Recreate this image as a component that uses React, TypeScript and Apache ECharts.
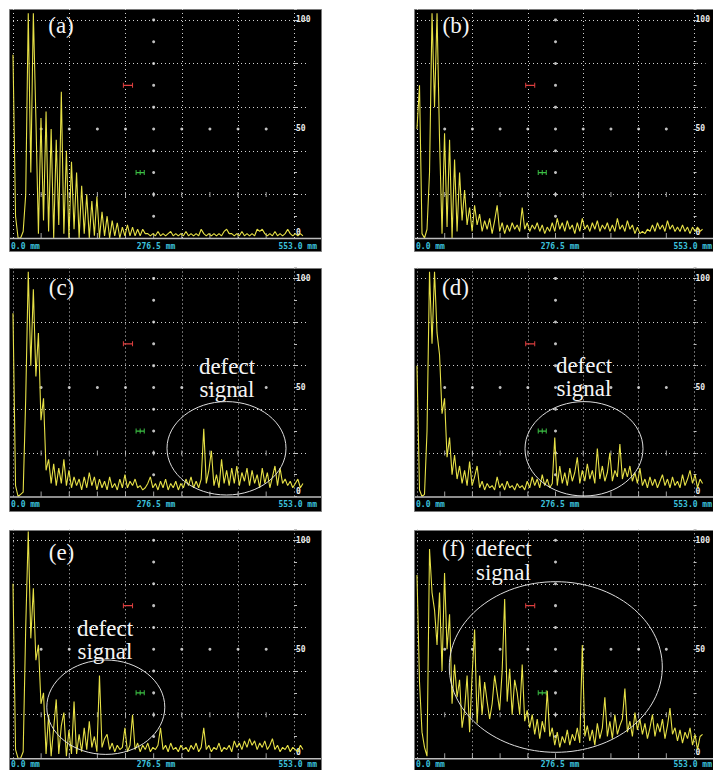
import React, { useEffect, useRef } from 'react';
import * as echarts from 'echarts';

// ---- data ----
const STEP_MM = 5;
const X_MAX = 576;
const DIV_MM = 55.3;
const CENTER_MM = 276.5;
const STRIP_LABELS = ['0.0 mm', '276.5 mm', '553.0 mm'];
const Y_LABELS = [0, 50, 100];
const PANEL_NAMES = ['(a)', '(b)', '(c)', '(d)', '(e)', '(f)'];
const DEFECT_WORDS = ['defect', 'signal'];
const DEFECT_PANELS = [2, 3, 4, 5];
const RED_GATE = [217, 235];
const RED_LEVEL = 70;
const GREEN_GATE = [242, 250, 258];
const GREEN_LEVEL = 30;
const DIVS = [1, 2, 3, 4, 5, 6, 7, 8, 9];
const DOT_LEVELS = [10, 20, 30, 40, 50, 60, 70, 80, 90, 100];
const ROW_DOT_LEVEL = 50;
const TICK_LEVELS = [0, 20];

const traceA = [
  84, 10, 0, 0, 3, 20, 103, 30, 103, 55,
  2, 55, 8, 58, 3, 50, 0, 45, 6, 67,
  2, 40, 0, 35, 4, 30, 0, 24, 2, 20,
  0, 17, 1, 19, 0, 12, 1, 10, 0, 8,
  1, 7, 0, 5, 1, 6, 1, 5, 1, 4,
  1, 4, 2, 2, 1, 2, 1, 3, 1, 2,
  1, 2, 3, 1, 2, 1, 2, 1, 3, 1,
  2, 1, 2, 1, 4, 2, 1, 2, 1, 2,
  1, 2, 1, 3, 4, 2, 2, 1, 2, 1,
  3, 1, 2, 1, 2, 1, 4, 3, 4, 2,
  1, 2, 1, 3, 1, 2, 1, 2, 4, 2,
  1, 2, 1, 2, 1,
];
const traceB = [
  50, 70, 2, 0, 4, 30, 103, 60, 103, 45,
  2, 48, 5, 45, 0, 36, 3, 30, 8, 22,
  6, 14, 3, 15, 6, 11, 3, 8, 4, 9,
  2, 8, 15, 3, 7, 2, 6, 3, 7, 4,
  6, 3, 14, 4, 7, 3, 6, 4, 7, 3,
  6, 2, 5, 3, 7, 3, 9, 4, 7, 3,
  8, 4, 6, 2, 7, 3, 9, 4, 6, 3,
  7, 4, 8, 3, 6, 4, 7, 3, 6, 3,
  9, 4, 6, 3, 8, 4, 6, 2, 5, 2,
  3, 2, 4, 3, 6, 3, 7, 4, 6, 3,
  8, 4, 6, 3, 5, 3, 6, 3, 5, 2,
  5, 3, 5, 3, 4,
];
const traceC = [
  84, 5, 0, 1, 2, 45, 103, 60, 95, 55,
  75, 35, 45, 12, 17, 6, 15, 5, 13, 6,
  17, 5, 12, 4, 9, 5, 8, 3, 9, 4,
  11, 5, 9, 3, 8, 4, 7, 3, 9, 4,
  6, 3, 8, 4, 10, 4, 7, 5, 8, 4,
  5, 3, 4, 6, 9, 4, 6, 3, 7, 4,
  8, 3, 6, 4, 7, 3, 6, 4, 8, 5,
  9, 4, 7, 4, 8, 31, 6, 12, 21, 5,
  10, 4, 17, 6, 12, 5, 13, 6, 14, 5,
  11, 7, 13, 5, 12, 6, 10, 4, 13, 6,
  11, 4, 9, 14, 5, 13, 6, 8, 5, 7,
  4, 6, 8, 4, 6,
];
const traceD = [
  60, 3, 0, 1, 30, 103, 70, 103, 75, 65,
  38, 45, 18, 27, 10, 19, 8, 14, 6, 12,
  5, 16, 5, 9, 14, 4, 7, 3, 6, 4,
  5, 3, 9, 4, 6, 3, 7, 4, 5, 3,
  6, 4, 5, 3, 7, 4, 9, 5, 8, 4,
  10, 5, 8, 4, 6, 27, 5, 14, 6, 11,
  5, 13, 7, 11, 18, 6, 12, 7, 15, 8,
  12, 6, 22, 8, 14, 7, 11, 20, 7, 12,
  9, 24, 8, 13, 9, 14, 7, 11, 6, 13,
  5, 8, 4, 9, 5, 8, 4, 7, 10, 5,
  8, 4, 9, 5, 7, 4, 10, 5, 8, 12,
  6, 10, 4, 8, 6,
];
const traceE = [
  80, 4, 0, 0, 3, 60, 104, 55, 78, 45,
  52, 25, 30, 2, 20, 1, 14, 27, 2, 15,
  21, 1, 13, 2, 26, 2, 11, 3, 14, 4,
  17, 5, 10, 3, 38, 5, 9, 11, 4, 7,
  3, 6, 4, 5, 14, 3, 6, 20, 4, 7,
  3, 6, 4, 7, 3, 5, 4, 6, 14, 4,
  6, 3, 7, 4, 5, 3, 6, 4, 5, 3,
  6, 4, 7, 3, 5, 14, 4, 6, 3, 5,
  4, 7, 3, 5, 4, 6, 3, 8, 5, 7,
  4, 8, 5, 9, 6, 8, 4, 7, 5, 8,
  4, 6, 9, 4, 6, 3, 5, 4, 6, 3,
  5, 4, 3, 6, 4,
];
const traceF = [
  84, 35, 12, 5, 1, 96, 76, 68, 52, 76,
  40, 85, 50, 66, 25, 43, 28, 36, 14, 22,
  38, 12, 38, 59, 16, 38, 20, 35, 26, 18,
  25, 38, 30, 22, 40, 73, 26, 41, 20, 36,
  30, 20, 43, 17, 22, 14, 20, 11, 18, 9,
  17, 12, 31, 10, 14, 6, 12, 5, 10, 7,
  13, 6, 11, 8, 14, 7, 52, 10, 15, 8,
  13, 6, 16, 9, 14, 28, 10, 17, 9, 20,
  11, 15, 18, 32, 12, 17, 10, 21, 13, 18,
  11, 16, 9, 14, 20, 10, 16, 12, 18, 9,
  15, 23, 11, 14, 8, 13, 7, 12, 9, 14,
  6, 11, 4, 10, 11,
];
const TRACES = [traceA, traceB, traceC, traceD, traceE, traceF];

// ---- layout (pixels) ----
const COL_LEFT = [13, 417];
const PANEL_X = [[9, 321], [414, 720]];
const ROW_ZERO = [238, 496.5, 758.3];
const ROW_TOP = [9, 268, 530];
const ROW_BOTTOM = [251, 511, 772];
const STRIP_TEXT_Y = [246.5, 504, 764.5];
const PLOT_W = 293;
const PLOT_H = 229;
const STRIP_X = [
  [[11, 'left'], [156, 'center'], [317, 'right']],
  [[416, 'left'], [560, 'center'], [712, 'right']],
];
const NAME_POS = [[61, 25], [456, 25], [61.5, 287], [455.5, 287], [61.5, 552], [453.5, 548]];
const DEFECT_POS = [[227, 366, 389], [584, 365, 388], [105, 628, 651], [503.5, 548, 572]];
const ELLIPSES = [[226.5, 448.3, 59.5, 46.7], [584, 448.8, 59, 47.2], [105.8, 707.2, 59, 47.2], [555.8, 667, 106.5, 85.3]];

const SERIF = '"Liberation Serif", "Times New Roman", serif';
const MONO = '"DejaVu Sans Mono", monospace';
const GRIDLINE = '#d2d2d2';

function buildOption() {
  const grid: any[] = [];
  const xAxis: any[] = [];
  const yAxis: any[] = [];
  const series: any[] = [];
  const graphic: any[] = [];

  for (let p = 0; p < 6; p++) {
    const c = p % 2;
    const r = Math.floor(p / 2);
    grid.push({ left: COL_LEFT[c], top: ROW_ZERO[r] - PLOT_H, width: PLOT_W, height: PLOT_H, show: false });
    xAxis.push({
      type: 'value', gridIndex: p, min: 0, max: X_MAX, interval: DIV_MM * 2,
      axisLine: { show: false }, axisTick: { show: false }, axisLabel: { show: false },
      splitLine: { show: true, showMaxLine: false, lineStyle: { color: GRIDLINE, width: 1, type: [1, 3] } },
    });
    yAxis.push({
      type: 'value', gridIndex: p, min: 0, max: 105, interval: 20, position: 'left',
      axisLine: { show: false }, axisTick: { show: false }, axisLabel: { show: false },
      splitLine: { show: true, showMaxLine: false, showMinLine: false, lineStyle: { color: GRIDLINE, width: 1, type: [1, 3] } },
    });
    yAxis.push({
      type: 'value', gridIndex: p, min: 0, max: 105, interval: 10, position: 'right', offset: -12,
      axisLine: { show: false },
      axisTick: { show: true, length: 3, lineStyle: { color: '#c0c0c0', width: 1 } },
      splitLine: { show: false },
      axisLabel: {
        show: true, margin: 2, color: '#ececec', fontSize: 8, fontFamily: MONO, fontWeight: 'bold',
        formatter: (v: number) => (v === Y_LABELS[0] ? '{z|' + v + '}' : Y_LABELS.includes(v) ? String(v) : ''),
        rich: { z: { fontSize: 8, fontFamily: MONO, fontWeight: 'bold', color: '#ececec', padding: [0, 0, 11, 0] } },
      },
    });
    const yi = p * 2;
    const dots = [
      ...DOT_LEVELS.map((l) => [CENTER_MM, l]),
      ...DIVS.filter((d) => d * DIV_MM !== CENTER_MM).map((d) => [d * DIV_MM, ROW_DOT_LEVEL]),
    ];
    series.push({
      type: 'scatter', xAxisIndex: p, yAxisIndex: yi, silent: true, symbol: 'circle', symbolSize: 3,
      itemStyle: { color: '#f0f0f0' }, data: dots, z: 2,
    });
    TICK_LEVELS.forEach((lvl) => {
      series.push({
        type: 'scatter', xAxisIndex: p, yAxisIndex: yi, silent: true, symbol: 'rect', symbolSize: [1, 5],
        symbolOffset: lvl === 0 ? [0, -2.5] : [0, 0],
        itemStyle: { color: '#c8c8c8' }, data: DIVS.map((d) => [d * DIV_MM, lvl]), z: 2,
      });
    });
    series.push({
      type: 'line', xAxisIndex: p, yAxisIndex: yi, silent: true, symbol: 'rect', symbolSize: [1, 5], showSymbol: true,
      itemStyle: { color: '#e04040' }, lineStyle: { color: '#e04040', width: 1.3 },
      data: RED_GATE.map((x) => [x, RED_LEVEL]), z: 3,
    });
    series.push({
      type: 'line', xAxisIndex: p, yAxisIndex: yi, silent: true, symbol: 'rect', symbolSize: [1, 5], showSymbol: true,
      itemStyle: { color: '#3cc044' }, lineStyle: { color: '#3cc044', width: 1.3 },
      data: GREEN_GATE.map((x) => [x, GREEN_LEVEL]), z: 3,
    });
    series.push({
      type: 'line', xAxisIndex: p, yAxisIndex: yi, silent: true, symbol: 'none', showSymbol: false, clip: true,
      lineStyle: { color: '#e6e046', width: 1.1 },
      data: TRACES[p].map((v, i) => [i * STEP_MM, v]), z: 4,
    });

    // panel background, strip
    const px0 = PANEL_X[c][0];
    const px1 = PANEL_X[c][1];
    graphic.push({
      type: 'rect', z: -10, silent: true,
      shape: { x: px0 + 0.5, y: ROW_TOP[r] + 0.5, width: px1 - px0, height: ROW_BOTTOM[r] - ROW_TOP[r] },
      style: { fill: '#000', stroke: '#7a7a7a', lineWidth: 1 },
    });
    graphic.push({
      type: 'rect', z: 20, silent: true,
      shape: { x: px0 + 1, y: ROW_ZERO[r] + 0.5, width: px1 - px0 - 1, height: ROW_BOTTOM[r] - ROW_ZERO[r] - 1 },
      style: { fill: '#000' },
    });
    graphic.push({
      type: 'line', z: 21, silent: true,
      shape: { x1: px0 + 1, y1: ROW_ZERO[r] + 0.5, x2: px1, y2: ROW_ZERO[r] + 0.5 },
      style: { stroke: '#bdbdbd', lineWidth: 1.5 },
    });
    STRIP_LABELS.forEach((t, k) => {
      const [sx, al] = STRIP_X[c][k] as [number, string];
      graphic.push({
        type: 'text', z: 22, silent: true, x: sx, y: STRIP_TEXT_Y[r],
        style: { text: t, fill: '#3cc0dc', font: 'bold 8px ' + MONO, textAlign: al, textVerticalAlign: 'middle' },
      });
    });
    graphic.push({
      type: 'text', z: 30, silent: true, x: NAME_POS[p][0], y: NAME_POS[p][1],
      style: { text: PANEL_NAMES[p], fill: '#f4f4f4', font: '23px ' + SERIF, textAlign: 'center', textVerticalAlign: 'middle' },
    });
  }

  DEFECT_PANELS.forEach((p, k) => {
    const [dx, y1, y2] = DEFECT_POS[k];
    [y1, y2].forEach((yy, w) => {
      graphic.push({
        type: 'text', z: 30, silent: true, x: dx, y: yy,
        style: { text: DEFECT_WORDS[w], fill: '#f4f4f4', font: '23px ' + SERIF, textAlign: 'center', textVerticalAlign: 'middle' },
      });
    });
    const [cx, cy, rx, ry] = ELLIPSES[k];
    graphic.push({
      type: 'ellipse', z: 30, silent: true, shape: { cx, cy, rx, ry },
      style: { fill: 'none', stroke: '#dedede', lineWidth: 1 },
    });
  });

  return {
    animation: false,
    backgroundColor: '#ffffff',
    grid, xAxis, yAxis, series, graphic,
  };
}

export default function App() {
  const ref = useRef<HTMLDivElement>(null);
  useEffect(() => {
    const chart = echarts.init(ref.current as HTMLDivElement, null, { renderer: 'svg' });
    chart.setOption(buildOption() as any);
    return () => chart.dispose();
  }, []);
  return (
    <div
      ref={ref}
      style={{ position: 'fixed', left: 0, top: 0, width: 713, height: 770, background: '#fff' }}
    />
  );
}
